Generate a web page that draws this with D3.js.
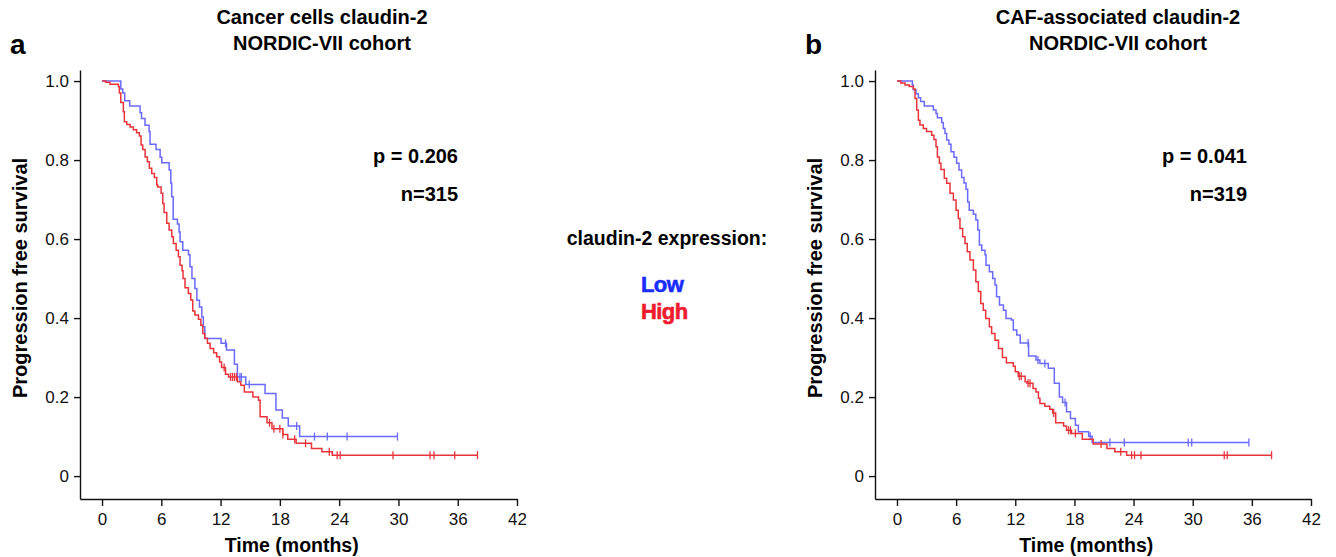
<!DOCTYPE html>
<html>
<head>
<meta charset="utf-8">
<script src="https://cdn.jsdelivr.net/npm/d3@7"></script>
<style>
  body { margin: 0; background: #fff; }
  svg text { font-family: "Liberation Sans", Arial, sans-serif; }
</style>
</head>
<body>
<svg id="chart" width="1336" height="557"></svg>
<script>
// ---- data ----
// each step: [time in months, survival after the drop]
var aLowSteps = [[1.9,0.98],[2.1,0.97],[2.3,0.95],[2.8,0.937],[3.85,0.92],[4.0,0.905],[4.35,0.888],[4.76,0.872],[4.86,0.84],[5.47,0.827],[5.88,0.807],[6.05,0.793],[6.79,0.775],[6.96,0.742],[7.05,0.707],[7.2,0.65],[7.63,0.638],[7.8,0.618],[7.9,0.593],[8.17,0.572],[8.75,0.56],[8.9,0.53],[9.1,0.50],[9.4,0.475],[9.6,0.445],[9.86,0.428],[10.1,0.403],[10.25,0.378],[10.4,0.348],[12.05,0.336],[12.6,0.319],[13.4,0.283],[13.7,0.251],[14.55,0.232],[16.5,0.209],[17.6,0.167],[18.25,0.147],[18.85,0.127],[20.0,0.10]]
var aLowCensor = [12.5,13.95,14.1,14.9,19.7,21.5,22.8,24.8,29.9]

var aHighSteps = [[0.37,0.997],[0.8,0.992],[1.65,0.986],[1.75,0.97],[1.9,0.946],[2.16,0.922],[2.26,0.897],[2.5,0.89],[2.84,0.884],[3.17,0.877],[3.5,0.869],[3.78,0.861],[3.95,0.838],[4.12,0.827],[4.36,0.808],[4.59,0.796],[4.79,0.779],[5.03,0.766],[5.3,0.756],[5.54,0.737],[5.64,0.732],[5.98,0.716],[6.15,0.69],[6.28,0.667],[6.55,0.64],[6.79,0.623],[7.06,0.606],[7.22,0.589],[7.5,0.572],[7.73,0.555],[7.9,0.534],[8.1,0.52],[8.2,0.50],[8.4,0.477],[8.74,0.462],[8.98,0.446],[9.18,0.418],[9.4,0.408],[9.76,0.397],[10.0,0.382],[10.2,0.361],[10.4,0.349],[10.67,0.336],[10.94,0.323],[11.3,0.312],[11.6,0.302],[11.9,0.289],[12.1,0.275],[12.5,0.258],[12.8,0.251],[13.7,0.239],[14.05,0.230],[14.4,0.213],[15.27,0.20],[15.84,0.192],[16.0,0.150],[16.7,0.135],[17.2,0.12],[18.3,0.105],[18.8,0.093],[19.65,0.083],[21.2,0.070],[22.25,0.0615],[23.3,0.053]]
var aHighCensor = [12.36,13.0,13.2,13.4,13.6,16.95,17.4,18.0,18.3,19.5,20.6,23.0,23.8,24.1,29.45,33.2,33.6,35.7,38.0]

var bLowSteps = [[1.56,0.99],[1.66,0.978],[1.93,0.968],[2.17,0.958],[2.4,0.948],[2.77,0.937],[3.69,0.927],[3.96,0.918],[4.1,0.907],[4.54,0.895],[4.7,0.88],[4.87,0.867],[5.04,0.851],[5.27,0.84],[5.48,0.821],[5.78,0.807],[6.05,0.792],[6.29,0.775],[6.56,0.756],[6.8,0.742],[7.0,0.726],[7.17,0.694],[7.33,0.673],[7.75,0.663],[8.0,0.648],[8.2,0.623],[8.36,0.585],[8.6,0.572],[8.93,0.56],[9.03,0.534],[9.37,0.517],[9.71,0.50],[9.94,0.484],[10.1,0.454],[10.4,0.433],[10.8,0.42],[11.06,0.399],[11.6,0.395],[11.8,0.37],[12.15,0.357],[12.5,0.337],[13.35,0.304],[14.1,0.294],[14.5,0.285],[15.35,0.273],[15.96,0.235],[16.47,0.20],[16.8,0.186],[17.2,0.163],[17.6,0.146],[18.1,0.129],[18.4,0.112],[19.45,0.101],[19.8,0.085]]
var bLowCensor = [13.3,14.3,15.0,17.05,19.6,21.6,23.06,29.55,29.9,35.7]

var bHighSteps = [[0.38,0.995],[0.81,0.99],[1.25,0.986],[1.66,0.98],[1.83,0.956],[2.0,0.927],[2.17,0.901],[2.33,0.889],[2.67,0.88],[3.0,0.872],[3.52,0.863],[3.75,0.852],[3.96,0.834],[4.1,0.808],[4.3,0.792],[4.46,0.776],[4.8,0.754],[5.04,0.741],[5.38,0.716],[5.72,0.699],[5.99,0.673],[6.22,0.652],[6.39,0.627],[6.66,0.606],[6.9,0.589],[7.13,0.568],[7.4,0.547],[7.75,0.522],[8.0,0.492],[8.25,0.467],[8.5,0.437],[8.75,0.42],[9.0,0.399],[9.37,0.378],[9.6,0.361],[9.94,0.344],[10.3,0.323],[10.7,0.30],[11.1,0.287],[11.8,0.278],[12.0,0.264],[12.3,0.253],[13.0,0.239],[13.2,0.235],[13.8,0.222],[14.1,0.213],[14.35,0.197],[14.5,0.184],[15.0,0.177],[15.5,0.169],[15.8,0.16],[16.1,0.135],[16.9,0.127],[17.2,0.116],[17.7,0.108],[18.8,0.093],[19.9,0.081],[21.3,0.07],[22.1,0.0615],[23.3,0.053]]
var bHighCensor = [12.4,12.6,13.3,13.5,15.9,17.4,17.6,18.1,20.7,22.7,23.8,24.1,24.75,33.2,33.5,38.0]

var xTicks = [0, 6, 12, 18, 24, 30, 36, 42]
var yTicks = [0, 0.2, 0.4, 0.6, 0.8, 1.0]

var lowColor = "#6a6aff", highColor = "#e8343a"

var svg = d3.select("#chart")

// survival value at time t from a step list
function survAt(steps, t) {
  var s = 1
  steps.forEach(function(d) { if (d[0] <= t) s = d[1] })
  return s
}

function drawPanel(cfg) {
  var x = d3.scaleLinear().domain([-2.23, 42]).range([cfg.left, cfg.right])
  var y = d3.scaleLinear().domain([-0.058, 1.028]).range([499, 70])

  var g = svg.append("g")

  // axes
  g.append("g")
    .attr("transform", "translate(0,499)")
    .call(d3.axisBottom(x).tickValues(xTicks).tickSize(7).tickSizeOuter(0).tickPadding(7))
  g.append("g")
    .attr("transform", "translate(" + cfg.left + ",0)")
    .call(d3.axisLeft(y).tickValues(yTicks).tickSize(6).tickSizeOuter(0).tickPadding(5)
      .tickFormat(function(d) { return d === 0 ? "0" : d3.format(".1f")(d) }))
  g.selectAll(".tick text").attr("font-size", 17).attr("font-family", "Liberation Sans, Arial, sans-serif").attr("fill", "#111")
  g.selectAll(".domain, .tick line").attr("stroke", "#111").attr("stroke-width", 1.4)

  var curves = [
    { steps: cfg.low, cens: cfg.lowCens, color: lowColor },
    { steps: cfg.high, cens: cfg.highCens, color: highColor }
  ]

  curves.forEach(function(c) {
    var end = d3.max(c.cens)
    var pts = [[0, 1]].concat(c.steps).concat([[end, c.steps[c.steps.length - 1][1]]])
    var line = d3.line()
      .x(function(d) { return x(d[0]) })
      .y(function(d) { return y(d[1]) })
      .curve(d3.curveStepAfter)
    g.append("path")
      .attr("d", line(pts))
      .attr("fill", "none")
      .attr("stroke", c.color)
      .attr("stroke-width", 1.5)

    g.selectAll(null)
      .data(c.cens)
      .enter().append("line")
      .attr("x1", function(d) { return x(d) })
      .attr("x2", function(d) { return x(d) })
      .attr("y1", function(d) { return y(survAt(c.steps, d)) - 4 })
      .attr("y2", function(d) { return y(survAt(c.steps, d)) + 4 })
      .attr("stroke", c.color)
      .attr("stroke-width", 1.3)
  })

  // labels
  g.append("text").attr("x", cfg.letterX).attr("y", 54)
    .attr("font-size", 28).attr("font-weight", "bold").text(cfg.letter)
  g.append("text").attr("x", cfg.titleX).attr("y", 24)
    .attr("text-anchor", "middle").attr("font-size", 20).attr("font-weight", "bold").text(cfg.title1)
  g.append("text").attr("x", cfg.titleX).attr("y", 50)
    .attr("text-anchor", "middle").attr("font-size", 20).attr("font-weight", "bold").text("NORDIC-VII cohort")
  g.append("text").attr("x", cfg.statX).attr("y", 163)
    .attr("text-anchor", "end").attr("font-size", 20).attr("font-weight", "bold").text(cfg.p)
  g.append("text").attr("x", cfg.statX).attr("y", 201)
    .attr("text-anchor", "end").attr("font-size", 20).attr("font-weight", "bold").text(cfg.n)
  g.append("text")
    .attr("transform", "translate(" + (cfg.left - 53) + ",278) rotate(-90)")
    .attr("text-anchor", "middle").attr("font-size", 20).attr("font-weight", "bold")
    .text("Progression free survival")
  g.append("text").attr("x", x(19.2)).attr("y", 552)
    .attr("text-anchor", "middle").attr("font-size", 19.5).attr("font-weight", "bold").text("Time (months)")
}

drawPanel({ left: 80, right: 517, low: aLowSteps, lowCens: aLowCensor, high: aHighSteps, highCens: aHighCensor,
  letter: "a", letterX: 10, title1: "Cancer cells claudin-2", titleX: 322, statX: 458, p: "p = 0.206", n: "n=315" })
drawPanel({ left: 875, right: 1311, low: bLowSteps, lowCens: bLowCensor, high: bHighSteps, highCens: bHighCensor,
  letter: "b", letterX: 805, title1: "CAF-associated claudin-2", titleX: 1118, statX: 1247, p: "p = 0.041", n: "n=319" })

// legend in the middle
svg.append("text").attr("x", 667).attr("y", 245)
  .attr("text-anchor", "middle").attr("font-size", 19.5).attr("font-weight", "bold").text("claudin-2 expression:")
svg.append("text").attr("x", 641).attr("y", 292)
  .attr("font-size", 22).attr("font-weight", "bold").attr("fill", "#1a2cff")
  .attr("stroke", "#1a2cff").attr("stroke-width", 0.6).attr("letter-spacing", -0.6).text("Low")
svg.append("text").attr("x", 641).attr("y", 319)
  .attr("font-size", 22).attr("font-weight", "bold").attr("fill", "#ee1c2e")
  .attr("stroke", "#ee1c2e").attr("stroke-width", 0.6).attr("letter-spacing", -0.6).text("High")
</script>
</body>
</html>
